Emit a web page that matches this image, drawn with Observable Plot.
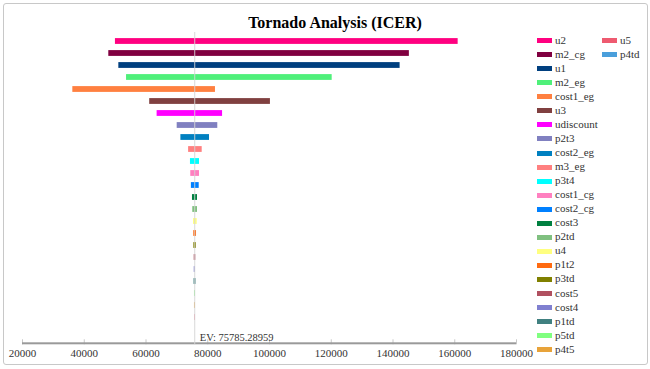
<!DOCTYPE html>
<html><head><meta charset="utf-8">
<script src="https://cdn.jsdelivr.net/npm/d3@7"></script>
<script src="https://cdn.jsdelivr.net/npm/@observablehq/plot@0.6"></script>
<style>
body{margin:0;background:#fff;}
#wrap{position:relative;width:650px;height:369px;overflow:hidden;font-family:"Liberation Serif",serif;}
#wrap svg{position:absolute;left:0;top:0;display:block;}
#wrap svg text{font-family:"Liberation Serif",serif;}
#border{position:absolute;left:3px;top:3px;width:645px;height:362px;border:1px solid #c8c8c8;border-radius:3px;box-sizing:border-box;}
#title{position:absolute;top:14.6px;left:335px;transform:translateX(-50%);font-family:"Liberation Serif",serif;font-size:16px;line-height:16px;font-weight:bold;color:#000;white-space:nowrap;}
.lg{position:absolute;height:14px;font-family:"Liberation Serif",serif;font-size:11px;line-height:14px;color:#333;white-space:nowrap;}
.lg .sw{position:absolute;left:0;top:5.5px;width:15px;height:5px;}
.lg .tx{position:absolute;left:18px;top:0;}
</style></head>
<body>
<div id="wrap"><div id="border"></div><div id="title">Tornado Analysis (ICER)</div></div>
<script>
const params = ["u2","m2_cg","u1","m2_eg","cost1_eg","u3","udiscount","p2t3","cost2_eg","m3_eg","p3t4","cost1_cg","cost2_cg","cost3","p2td","u4","p1t2","p3td","cost5","cost4","p1td","p5td","p4t5","u5","p4td"];
const lowValues = [50100,47950,51200,53700,36300,61200,63600,70100,71300,73800,74400,74500,74700,75050,75150,75400,75480,75500,75610,75620,75560,75700,75700,75750,75785];
const highValues = [161100,145300,142300,120300,82500,100300,84800,83250,80570,78200,77330,77330,77230,76680,76680,76580,76360,76300,76130,76000,76200,76000,76000,75950,75786];
const colors = ["#ff0080","#800040","#003f7f","#4ff07a","#ff8040","#804040","#ff00ff","#8080c0","#0080c0","#ff8080","#00ffff","#ff80c0","#0080ff","#008040","#80c080","#ffff80","#ff6a10","#808000","#b05060","#8080d0","#408080","#80ff80","#e8a33a","#ee5a70","#4a9fdb"];
const xTicks = [20000,40000,60000,80000,100000,120000,140000,160000,180000];
const ev = 75785.28959;

const data = params.map((p, i) => ({param: p, low: lowValues[i], high: highValues[i]}));

const W = 650, H = 369, mT = 32, mB = 24.7, mL = 22, mR = 134;
const FH = H - mT - mB;
const serif = "'Liberation Serif', serif";

const plot = Plot.plot({
  width: W, height: H,
  marginLeft: mL, marginRight: mR, marginTop: mT, marginBottom: mB,
  style: {fontFamily: serif, fontSize: "11px", color: "#333", background: "transparent"},
  x: {domain: [xTicks[0], xTicks[xTicks.length - 1]]},
  y: {domain: params, range: [31.86, 338.86], padding: 0, axis: null},
  color: {domain: params, range: colors},
  marks: [
    Plot.ruleX(xTicks, {stroke: "#c8c8c8", insetTop: FH - 5}),
    Plot.rect([0], {x1: xTicks[0], x2: xTicks[xTicks.length - 1], fill: "#9a9a9a", insetTop: FH - 2}),
    Plot.barX(data, {y: "param", x1: "low", x2: "high", fill: "param", insetTop: 3.1, insetBottom: 3.1}),
    Plot.ruleX([ev], {stroke: "#d4d4d4", strokeOpacity: 0.9}),
    Plot.text([ev], {x: d => d, text: d => "EV: " + d, frameAnchor: "bottom", textAnchor: "start", lineAnchor: "bottom", dx: 5, dy: -3.5, fontSize: 10.5, fontFamily: serif, fill: "#333"}),
    Plot.axisX(xTicks, {anchor: "bottom", tickSize: 0, tickPadding: 4, tickFormat: d => String(d), fontSize: 11, fontFamily: serif, fill: "#333", label: null})
  ]
});
const wrap = document.getElementById("wrap");
wrap.insertBefore(plot, wrap.firstChild);

// legend
const rows = 23;
params.forEach((p, i) => {
  const col = Math.floor(i / rows), row = i % rows;
  const d = document.createElement("div");
  d.className = "lg";
  d.style.left = (col === 0 ? 537 : 602) + "px";
  d.style.top = (32.6 + row * 14.05) + "px";
  const sw = document.createElement("span");
  sw.className = "sw"; sw.style.background = colors[i];
  const tx = document.createElement("span");
  tx.className = "tx"; tx.textContent = p;
  d.appendChild(sw); d.appendChild(tx);
  wrap.appendChild(d);
});
</script>
</body></html>
